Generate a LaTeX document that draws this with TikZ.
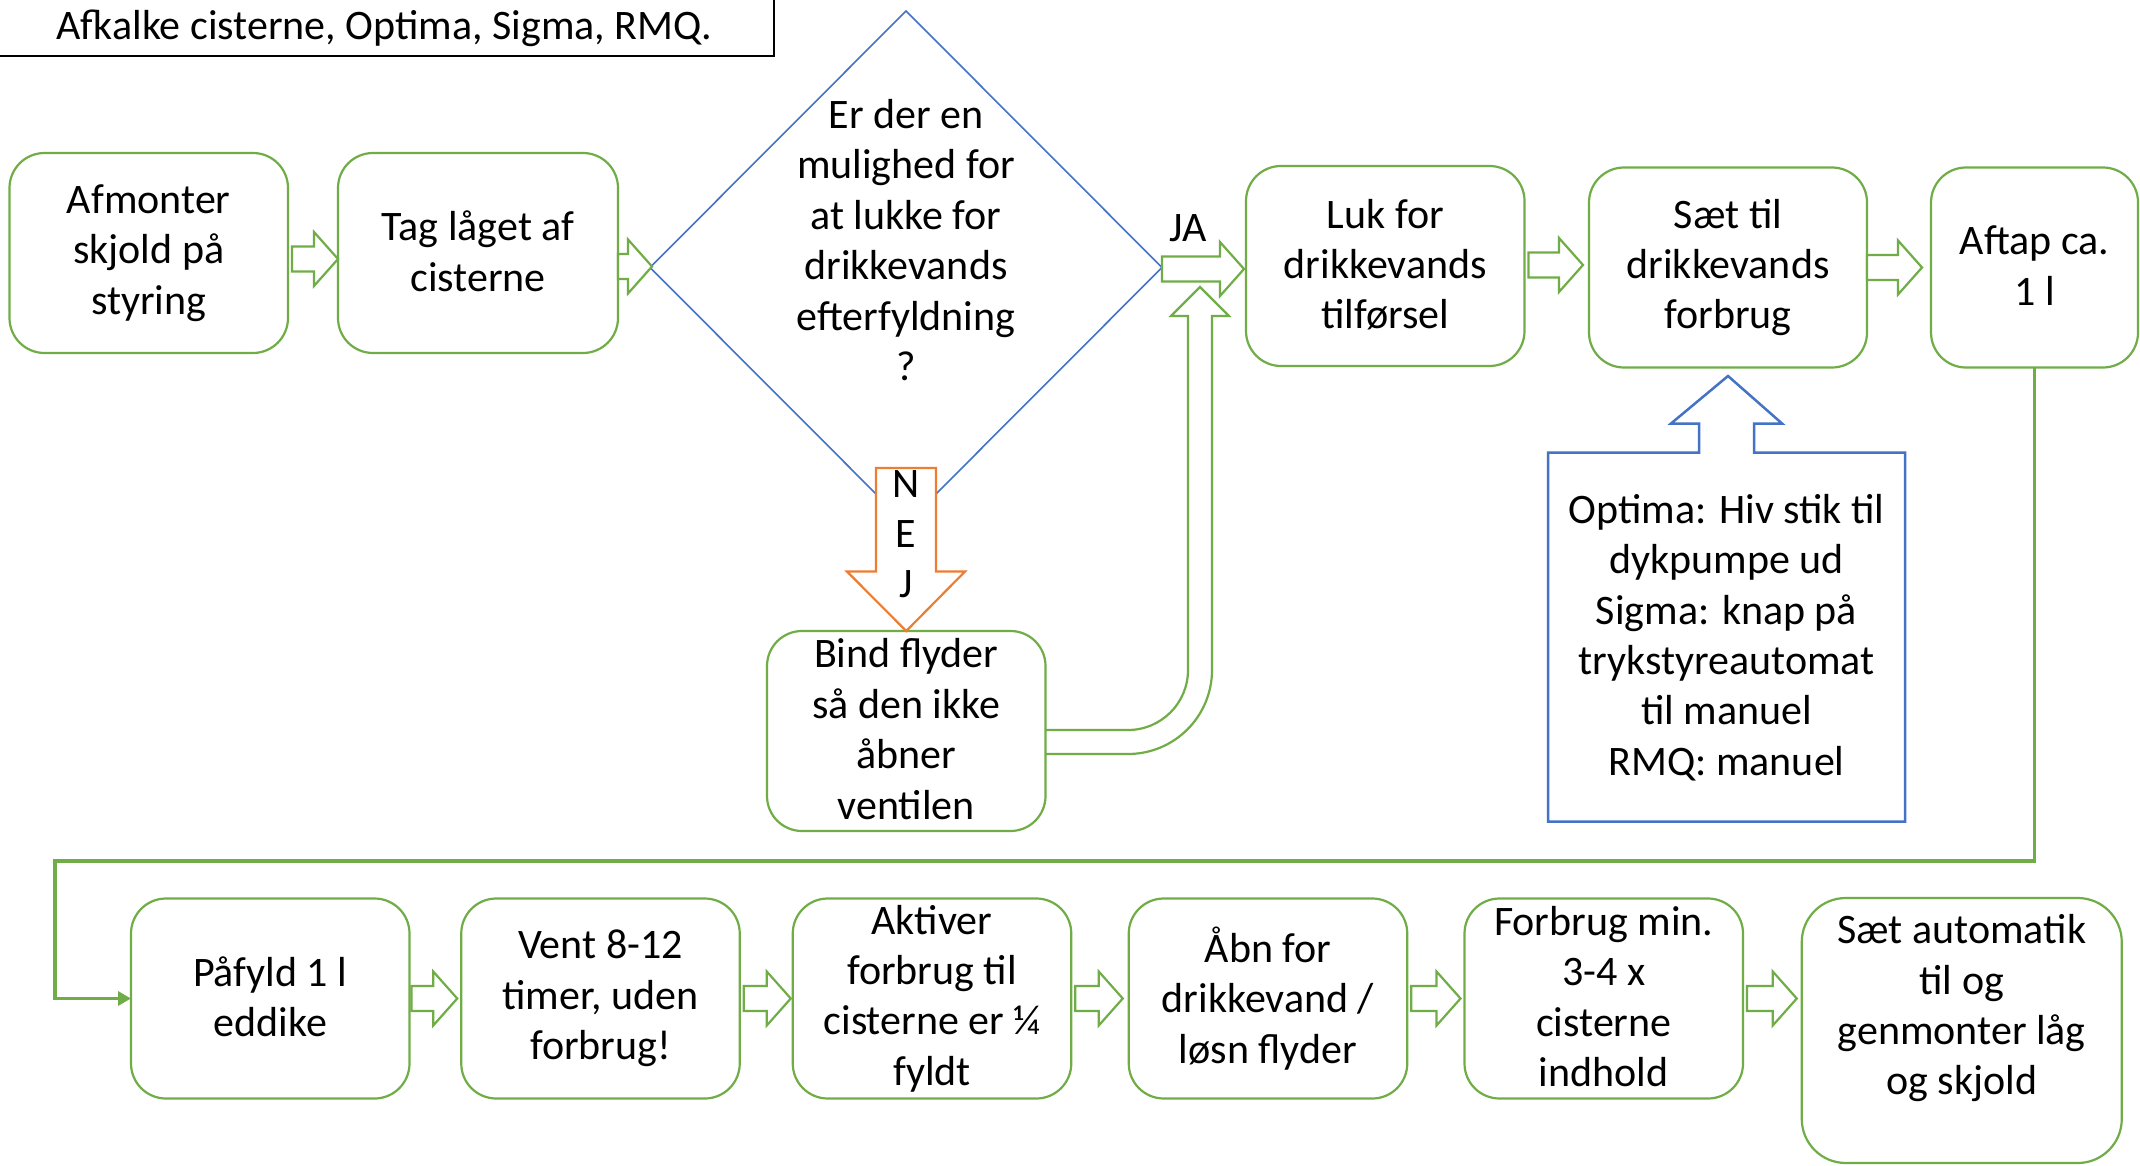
\documentclass[tikz,border=0pt]{standalone}
\usepackage{fontspec}
\setmainfont{Carlito}
\usetikzlibrary{calc,shapes.geometric,arrows.meta}
\definecolor{grn}{HTML}{70AD47}
\definecolor{blu}{HTML}{4472C4}
\definecolor{org}{HTML}{ED7D31}
\newcommand\topstrut{\rule{0pt}{22.5pt}}
\newcommand\botstrut{\rule[-2pt]{0pt}{2pt}}
\tikzset{
  every node/.style={font=\fontsize{21}{25.2}\selectfont, text=black,
    execute at begin node=\topstrut, execute at end node=\botstrut},
  gbox/.style={draw=grn, line width=1.1pt, rounded corners=17.5pt, align=center,
    inner sep=0pt, outer sep=0pt, minimum width=139.25pt, minimum height=100pt, fill=white},
  garr/.style={draw=grn, line width=1.1pt, fill=white, line join=miter},
  conn/.style={draw=grn, line width=1.9pt},
}
\newcommand\blkarrow[2]{%
  \draw[garr] let \p1=(#1), \p2=(#2) in
    (\x1,\y1+6.25pt) -- (\x2-12pt,\y1+6.25pt) -- (\x2-12pt,\y1+13.5pt) -- (\x2,\y1)
    -- (\x2-12pt,\y1-13.5pt) -- (\x2-12pt,\y1-6.25pt) -- (\x1,\y1-6.25pt) -- cycle;}
\begin{document}
\begin{tikzpicture}[x=0.5pt,y=-0.5pt]
\useasboundingbox[fill=white] (0,0) rectangle (2140,1166);

% title
\node[draw=black, line width=1.2pt, minimum width=389.5pt, minimum height=31pt, inner sep=0pt,
  execute at begin node=\strut, execute at end node=\strut]
  (title) at (384.5,25) {Afkalke cisterne, Optima, Sigma, RMQ.};

% top row
\node[gbox] (a1) at (148.75,253) {Afmonter\\skjold på\\styring};
\node[gbox, minimum width=140pt] (a2) at (478,253) {Tag låget af\\cisterne};
\node[diamond, draw=blu, line width=0.8pt, minimum width=256pt, minimum height=256.5pt,
  inner sep=0pt, outer sep=0pt, execute at begin node={}, execute at end node={}] (dia) at (906,267.5) {};
\node[align=center] (diatxt) at (906,242) {Er der en\\mulighed for\\at lukke for\\drikkevands\\efterfyldning\\?};
\node[gbox] (a3) at (1385.25,266) {Luk for\\drikkevands\\tilførsel};
\node[gbox, minimum width=139pt] (a4) at (1728,267.5) {Sæt til\\drikkevands\\forbrug};
\node[gbox, minimum width=103.5pt] (a5) at (2034.5,267.5) {Aftap ca.\\1 l};
\node[gbox] (bind) at (906.25,731) {Bind flyder\\så den ikke\\åbner\\ventilen};

% info callout
\coordinate (infoNW) at (1548,452.5);
\coordinate (infoSE) at (1905,821.5);
\node[align=center, inner sep=0pt] (info) at (1726.5,637.5)
  {Optima: Hiv stik til\\dykpumpe ud\\Sigma: knap på\\trykstyreautomat\\til manuel\\RMQ: manuel};
\draw[blu, line width=1.25pt, line join=miter] let \p1=(infoNW), \p2=(infoSE),
  \p3=(a4.south), \p4=(info.center) in
  (\x4-13.75pt,\y1) -- (\x1,\y1) -- (\x1,\y2) -- (\x2,\y2) -- (\x2,\y1) -- (\x4+13.75pt,\y1)
  -- (\x4+13.75pt,\y1+14.5pt) -- (\x4+27.75pt,\y1+14.5pt) -- (\x3,\y3-4.25pt)
  -- (\x4-27.75pt,\y1+14.5pt) -- (\x4-13.75pt,\y1+14.5pt) -- cycle;

% bottom row
\node[gbox] (b1) at (270.25,998.5) {Påfyld 1 l\\eddike};
\node[gbox] (b2) at (600.5,998.5) {Vent 8-12\\timer, uden\\forbrug!};
\node[gbox] (b3) at (932,998.5) {Aktiver\\forbrug til\\cisterne er ¼\\fyldt};
\node[gbox] (b4) at (1268,998.5) {Åbn for\\drikkevand /\\løsn flyder};
\node[gbox] (b5) at (1603.75,998.5) {Forbrug min.\\3-4 x\\cisterne\\indhold};
\node[gbox, minimum width=160pt, minimum height=132.5pt, rounded corners=22pt]
  (b6) at (1961.75,1030.5) {Sæt automatik\\til og\\genmonter låg\\og skjold\\[-1.5pt]};

% green block arrows
\blkarrow{$(a1.east)+(2pt,-3pt)$}{$(a2.west)+(0pt,-3pt)$}
\blkarrow{$(a2.east)+(0pt,-6.75pt)$}{$(dia.west)+(1pt,0pt)$}
\blkarrow{$(dia.east)+(0pt,-0.75pt)$}{$(a3.west)+(-1pt,0pt)$}
\blkarrow{$(a3.east)+(2pt,0.5pt)$}{$(a4.west)+(-3pt,0pt)$}
\blkarrow{$(a4.east)+(0pt,0pt)$}{$(a5.west)+(-4.5pt,0pt)$}
\blkarrow{$(b1.east)+(1pt,0pt)$}{$(b2.west)+(-2pt,0pt)$}
\blkarrow{$(b2.east)+(2pt,0pt)$}{$(b3.west)+(-1pt,0pt)$}
\blkarrow{$(b3.east)+(2pt,0pt)$}{$(b4.west)+(-3pt,0pt)$}
\blkarrow{$(b4.east)+(2pt,0pt)$}{$(b5.west)+(-2pt,0pt)$}
\blkarrow{$(b5.east)+(2pt,0pt)$}{$(b6.west)+(-2.5pt,0pt)$}

% return bent arrow from bind to JA
\draw[garr, fill=none] let \p1=(bind.east), \p2=(dia.east) in
  (\x1,\y1+0.5pt) -- (\x1+41.25pt,\y1+0.5pt) arc[start angle=-90,end angle=0,radius=30pt]
  -- (\x1+71.25pt,\y2-24.25pt) -- (\x1+62.75pt,\y2-24.25pt) -- (\x1+77.25pt,\y2-9.75pt)
  -- (\x1+91.75pt,\y2-24.25pt) -- (\x1+83.25pt,\y2-24.25pt) -- (\x1+83.25pt,\y1+30.5pt)
  arc[start angle=0,end angle=-90,radius=42pt] -- (\x1,\y1-11.5pt);

% NEJ arrow
\draw[draw=org, line width=1.1pt, fill=white, line join=miter] let \p1=(dia.south), \p2=(bind.north) in
  (\x1-15pt,\y1+28pt) -- (\x1-15pt,\y2+29.75pt) -- (\x1-29.5pt,\y2+29.75pt) -- (\x2,\y2)
  -- (\x1+29.5pt,\y2+29.75pt) -- (\x1+15pt,\y2+29.75pt) -- (\x1+15pt,\y1+28pt) -- cycle;
\node[align=center] (nej) at (906,536) {N\\E\\J};
\node (ja) at (1188,221) {JA};

% connector from Aftap down to Påfyld
\coordinate (c1) at (2035,861);
\coordinate (c2) at (54.6,861);
\draw[conn, -{Triangle[length=6.5pt,width=7pt]}] (a5.south) -- (a5.south |- c1) -- (c2) |- (b1.west);
\end{tikzpicture}
\end{document}
